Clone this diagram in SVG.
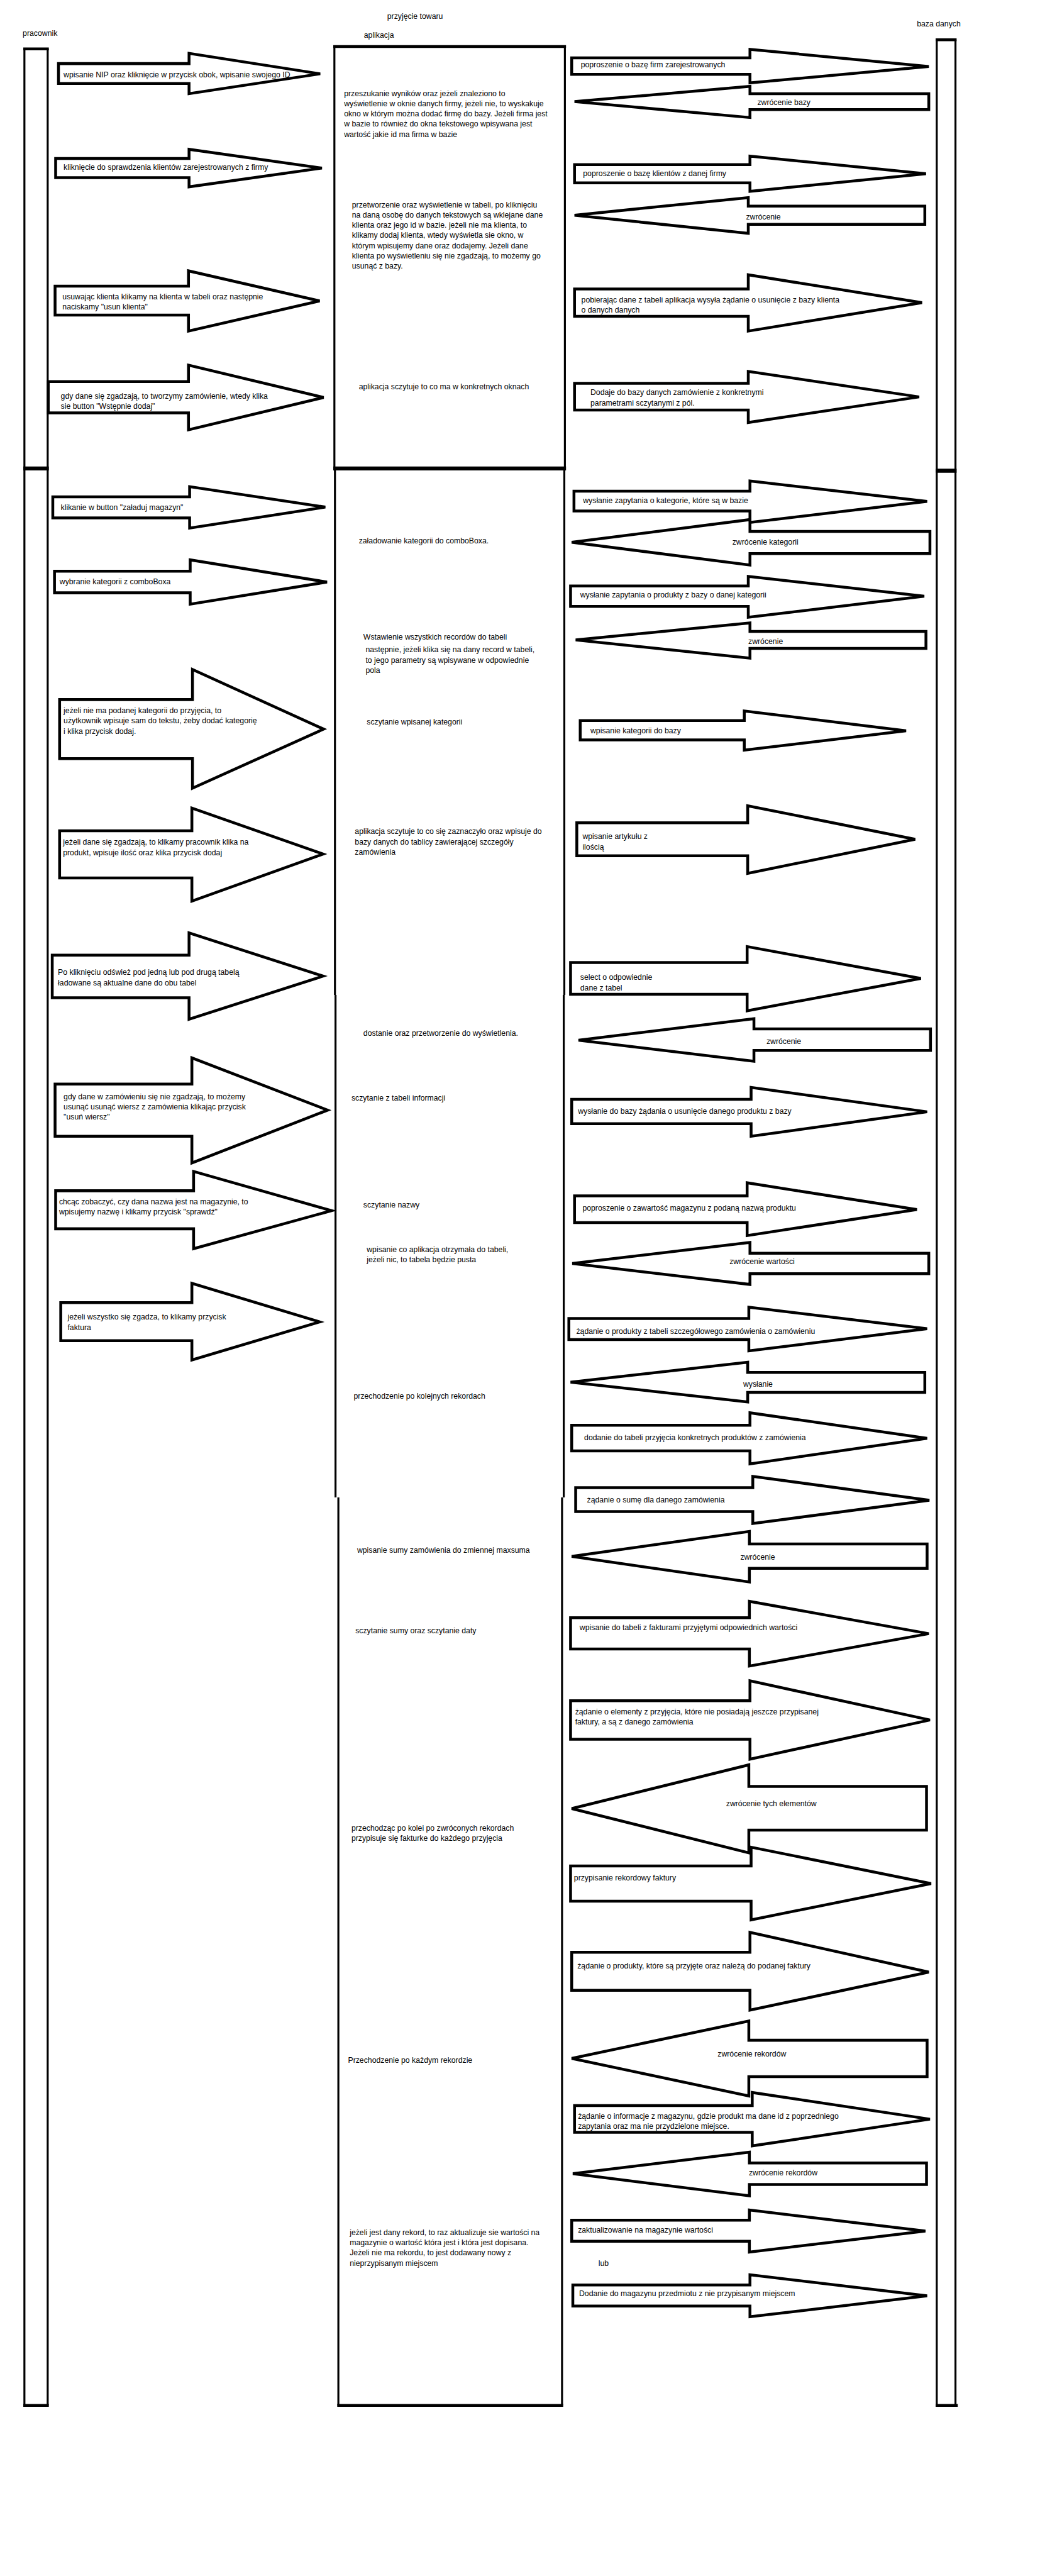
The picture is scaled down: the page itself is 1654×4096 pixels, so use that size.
<svg xmlns="http://www.w3.org/2000/svg" width="1654" height="4096" viewBox="0 0 1654 4096">
<style>
.t{font-family:"Liberation Sans",Arial,sans-serif;font-size:13.6px;fill:#000}
.arr{fill:#fff;stroke:#000;stroke-width:5;stroke-linejoin:miter}
.side{fill:none;stroke:#000;stroke-width:3.5}
.cap{fill:none;stroke:#000;stroke-width:5}
.join{fill:none;stroke:#000;stroke-width:7}
</style>
<rect x="0" y="0" width="1654" height="4096" fill="#fff"/>
<g transform="scale(0.9029)">
<text class="t" x="682" y="33">przyjęcie towaru</text>

<g id="pracownik">
<text class="t" x="40" y="63">pracownik</text>
<path class="side" d="M43,86 V4236 M84,86 V4236"/>
<path class="cap" d="M41,86 H86 M41,4236 H86"/>
<path class="join" d="M41,825 H86"/>
</g>

<g id="aplikacja">
<text class="t" x="641" y="67">aplikacja</text>
<path class="side" d="M589,82 V825 M995,82 V825 M590,825 V1752 M591,1752 V2637 M596,2637 V4236 M994,825 V1752 M993,1752 V2637 M990,2637 V4236"/>
<path class="cap" d="M587,82 H997 M594,4236 H992"/>
<path class="join" d="M587,825 H997"/>
<text class="t" x="606"><tspan x="606" y="169">przeszukanie wyników oraz jeżeli znaleziono to</tspan><tspan x="606" y="187">wyświetlenie w oknie danych firmy, jeżeli nie, to wyskakuje</tspan><tspan x="606" y="205">okno w którym można dodać firmę do bazy. Jeżeli firma jest</tspan><tspan x="606" y="223">w bazie to również do okna tekstowego wpisywana jest</tspan><tspan x="606" y="241">wartość jakie id ma firma w bazie</tspan></text>
<text class="t"><tspan x="620" y="365">przetworzenie oraz wyświetlenie w tabeli, po kliknięciu</tspan><tspan x="620" y="383">na daną osobę do danych tekstowych są wklejane dane</tspan><tspan x="620" y="401">klienta oraz jego id w bazie. jeżeli nie ma klienta, to</tspan><tspan x="620" y="419">klikamy dodaj klienta, wtedy wyświetla sie okno, w</tspan><tspan x="620" y="437">którym wpisujemy dane oraz dodajemy. Jeżeli dane</tspan><tspan x="620" y="455">klienta po wyświetleniu się nie zgadzają, to możemy go</tspan><tspan x="620" y="473">usunąć z bazy.</tspan></text>
<text class="t" x="632" y="686">aplikacja sczytuje to co ma w konkretnych oknach</text>
<text class="t" x="632" y="957">załadowanie kategorii do comboBoxa.</text>
<text class="t" x="640" y="1126">Wstawienie wszystkich recordów do tabeli</text>
<text class="t"><tspan x="644" y="1149">następnie, jeżeli klika się na dany record w tabeli,</tspan><tspan x="644" y="1167">to jego parametry są wpisywane w odpowiednie</tspan><tspan x="644" y="1185">pola</tspan></text>
<text class="t" x="646" y="1276">sczytanie wpisanej kategorii</text>
<text class="t"><tspan x="625" y="1469">aplikacja sczytuje to co się zaznaczyło oraz wpisuje do</tspan><tspan x="625" y="1487">bazy danych do tablicy zawierającej szczegóły</tspan><tspan x="625" y="1505">zamówienia</tspan></text>
<text class="t" x="640" y="1824">dostanie oraz przetworzenie do wyświetlenia.</text>
<text class="t" x="619" y="1938">sczytanie z tabeli informacji</text>
<text class="t" x="640" y="2127">sczytanie nazwy</text>
<text class="t"><tspan x="646" y="2205">wpisanie co aplikacja otrzymała do tabeli,</tspan><tspan x="646" y="2223">jeżeli nic, to tabela będzie pusta</tspan></text>
<text class="t" x="623" y="2463">przechodzenie po kolejnych rekordach</text>
<text class="t" x="629" y="2735">wpisanie sumy zamówienia do zmiennej maxsuma</text>
<text class="t" x="626" y="2876">sczytanie sumy oraz sczytanie daty</text>
<text class="t"><tspan x="619" y="3224">przechodząc po kolei po zwróconych rekordach</tspan><tspan x="619" y="3242">przypisuje się fakturke do każdego przyjęcia</tspan></text>
<text class="t" x="613" y="3633">Przechodzenie po każdym rekordzie</text>
<text class="t"><tspan x="616" y="3936">jeżeli jest dany rekord, to raz aktualizuje sie wartości na</tspan><tspan x="616" y="3954">magazynie o wartość która jest i która jest dopisana.</tspan><tspan x="616" y="3972">Jeżeli nie ma rekordu, to jest dodawany nowy z</tspan><tspan x="616" y="3990">nieprzypisanym miejscem</tspan></text>
</g>

<g id="baza_danych">
<text class="t" x="1615" y="47">baza danych</text>
<path class="side" d="M1650,70 V4236 M1683,70 V4236"/>
<path class="cap" d="M1648,70 H1685 M1648,4236 H1687"/>
<path class="join" d="M1648,829 H1685"/>
</g>

<g id="connectors">
<polygon class="arr" points="103,112 333,112 333,94 564,130 333,165 333,147 103,147"/>
<text class="t" x="112" y="136">wpisanie NIP oraz kliknięcie w przycisk obok, wpisanie swojego ID</text>
<polygon class="arr" points="98,279 333,279 333,263 567,296 333,329 333,313 98,313"/>
<text class="t" x="112" y="299">kliknięcie do sprawdzenia klientów zarejestrowanych z firmy</text>
<polygon class="arr" points="97,504 332,504 332,477 563,530 332,583 332,555 97,555"/>
<text class="t"><tspan x="110" y="527">usuwając klienta klikamy na klienta w tabeli oraz następnie</tspan><tspan x="110" y="545">naciskamy "usun klienta"</tspan></text>
<polygon class="arr" points="85,672 332,672 332,643 570,700 332,757 332,727 85,727"/>
<text class="t"><tspan x="107" y="702">gdy dane się zgadzają, to tworzymy zamówienie, wtedy klika</tspan><tspan x="107" y="720">sie button "Wstępnie dodaj"</tspan></text>
<polygon class="arr" points="93,875 334,875 334,857 573,893 334,930 334,912 93,912"/>
<text class="t" x="107" y="898">klikanie w button "załaduj magazyn"</text>
<polygon class="arr" points="96,1006 335,1006 335,986 576,1025 335,1064 335,1044 96,1044"/>
<text class="t" x="105" y="1029">wybranie kategorii z comboBoxa</text>
<polygon class="arr" points="105,1232 339,1232 339,1179 570,1284 339,1388 339,1336 105,1336"/>
<text class="t"><tspan x="112" y="1256">jeżeli nie ma podanej kategorii do przyjęcia, to</tspan><tspan x="112" y="1274">użytkownik wpisuje sam do tekstu, żeby dodać kategorię</tspan><tspan x="112" y="1292">i klika przycisk dodaj.</tspan></text>
<polygon class="arr" points="105,1463 338,1463 338,1423 569,1504 338,1587 338,1546 105,1546"/>
<text class="t"><tspan x="111" y="1487">jeżeli dane się zgadzają, to klikamy pracownik klika na</tspan><tspan x="111" y="1506">produkt, wpisuje ilość oraz klika przycisk dodaj</tspan></text>
<polygon class="arr" points="92,1682 333,1682 333,1643 569,1719 333,1795 333,1757 92,1757"/>
<text class="t"><tspan x="102" y="1717">Po kliknięciu odśwież pod jedną lub pod drugą tabelą</tspan><tspan x="102" y="1735">ładowane są aktualne dane do obu tabel</tspan></text>
<polygon class="arr" points="97,1909 338,1909 338,1863 577,1955 338,2048 338,2001 97,2001"/>
<text class="t"><tspan x="112" y="1936">gdy dane w zamówieniu się nie zgadzają, to możemy</tspan><tspan x="112" y="1954">usunąć usunąć wiersz z zamówienia klikając przycisk</tspan><tspan x="112" y="1971">"usuń wiersz"</tspan></text>
<polygon class="arr" points="98,2097 341,2097 341,2063 584,2132 341,2199 341,2164 98,2164"/>
<text class="t"><tspan x="104" y="2121">chcąc zobaczyć, czy dana nazwa jest na magazynie, to</tspan><tspan x="104" y="2139">wpisujemy nazwę i klikamy przycisk "sprawdź"</tspan></text>
<polygon class="arr" points="107,2294 338,2294 338,2260 563,2328 338,2395 338,2361 107,2361"/>
<text class="t"><tspan x="119" y="2324">jeżeli wszystko się zgadza, to klikamy przycisk</tspan><tspan x="119" y="2342">faktura</tspan></text>

<polygon class="arr" points="1007,102 1321,102 1321,87 1636,117 1321,146 1321,131 1007,131"/>
<text class="t" x="1023" y="119">poproszenie o bazę firm zarejestrowanych</text>
<polygon class="arr" points="1012,179 1321,152 1321,165 1636,165 1636,193 1321,193 1321,207"/>
<text class="t" x="1334" y="185">zwrócenie bazy</text>
<polygon class="arr" points="1012,290 1321,290 1321,275 1631,306 1321,337 1321,322 1012,322"/>
<text class="t" x="1027" y="310">poproszenie o bazę klientów z danej firmy</text>
<polygon class="arr" points="1012,379 1318,348 1318,363 1629,363 1629,395 1318,395 1318,411"/>
<text class="t" x="1314" y="386">zwrócenie</text>
<polygon class="arr" points="1012,509 1318,509 1318,484 1624,533 1318,583 1318,557 1012,557"/>
<text class="t"><tspan x="1024" y="533">pobierając dane z tabeli aplikacja wysyła żądanie o usunięcie z bazy klienta</tspan><tspan x="1024" y="551">o danych danych</tspan></text>
<polygon class="arr" points="1012,675 1318,675 1318,654 1619,699 1318,744 1318,722 1012,722"/>
<text class="t"><tspan x="1040" y="696">Dodaje do bazy danych zamówienie z konkretnymi</tspan><tspan x="1040" y="714">parametrami sczytanymi z pól.</tspan></text>
<polygon class="arr" points="1011,865 1321,865 1321,847 1633,883 1321,920 1321,900 1011,900"/>
<text class="t" x="1027" y="886">wysłanie zapytania o kategorie, które są w bazie</text>
<polygon class="arr" points="1007,955 1321,915 1321,936 1638,936 1638,975 1321,975 1321,995"/>
<text class="t" x="1290" y="959">zwrócenie kategorii</text>
<polygon class="arr" points="1005,1032 1318,1032 1318,1015 1628,1050 1318,1087 1318,1068 1005,1068"/>
<text class="t" x="1022" y="1052">wysłanie zapytania o produkty z bazy o danej kategorii</text>
<polygon class="arr" points="1014,1127 1321,1097 1321,1112 1631,1112 1631,1142 1321,1142 1321,1159"/>
<text class="t" x="1318" y="1134">zwrócenie</text>
<polygon class="arr" points="1022,1269 1311,1269 1311,1252 1596,1287 1311,1321 1311,1303 1022,1303"/>
<text class="t" x="1040" y="1291">wpisanie kategorii do bazy</text>
<polygon class="arr" points="1016,1449 1317,1449 1317,1419 1612,1478 1317,1538 1317,1507 1016,1507"/>
<text class="t"><tspan x="1026" y="1477">wpisanie artykułu z</tspan><tspan x="1026" y="1496">ilością</tspan></text>
<polygon class="arr" points="1005,1695 1316,1695 1316,1667 1622,1723 1316,1780 1316,1751 1005,1751"/>
<text class="t"><tspan x="1022" y="1726">select o odpowiednie</tspan><tspan x="1022" y="1744">dane z tabel</tspan></text>
<polygon class="arr" points="1019,1832 1328,1794 1328,1812 1639,1812 1639,1850 1328,1850 1328,1869"/>
<text class="t" x="1350" y="1838">zwrócenie</text>
<polygon class="arr" points="1007,1936 1323,1936 1323,1915 1633,1958 1323,2001 1323,1979 1007,1979"/>
<text class="t" x="1018" y="1962">wysłanie do bazy żądania o usunięcie danego produktu z bazy</text>
<polygon class="arr" points="1012,2106 1316,2106 1316,2083 1615,2130 1316,2176 1316,2153 1012,2153"/>
<text class="t" x="1026" y="2132">poproszenie o zawartość magazynu z podaną nazwą produktu</text>
<polygon class="arr" points="1008,2225 1321,2188 1321,2207 1636,2207 1636,2243 1321,2243 1321,2262"/>
<text class="t" x="1285" y="2226">zwrócenie wartości</text>
<polygon class="arr" points="1002,2322 1319,2322 1319,2302 1633,2340 1319,2379 1319,2359 1002,2359"/>
<text class="t" x="1015" y="2349">żądanie o produkty z tabeli szczegółowego zamówienia  o zamówieniu</text>
<polygon class="arr" points="1005,2434 1317,2399 1317,2417 1629,2417 1629,2452 1317,2452 1317,2469"/>
<text class="t" x="1309" y="2442">wysłanie</text>
<polygon class="arr" points="1007,2510 1321,2510 1321,2488 1633,2533 1321,2578 1321,2555 1007,2555"/>
<text class="t" x="1029" y="2536">dodanie do tabeli przyjęcia konkretnych produktów z zamówienia</text>
<polygon class="arr" points="1014,2620 1326,2620 1326,2600 1637,2642 1326,2683 1326,2662 1014,2662"/>
<text class="t" x="1034" y="2646">żądanie o sumę dla danego zamówienia</text>
<polygon class="arr" points="1007,2741 1320,2697 1320,2719 1633,2719 1633,2762 1320,2762 1320,2786"/>
<text class="t" x="1304" y="2747">zwrócenie</text>
<polygon class="arr" points="1005,2849 1320,2849 1320,2820 1636,2877 1320,2934 1320,2904 1005,2904"/>
<text class="t" x="1021" y="2871">wpisanie do tabeli z fakturami przyjętymi odpowiednich wartości</text>
<polygon class="arr" points="1005,2995 1321,2995 1321,2960 1638,3029 1321,3098 1321,3063 1005,3063"/>
<text class="t"><tspan x="1013" y="3019">żądanie o elementy z przyjęcia, które nie posiadają jeszcze przypisanej</tspan><tspan x="1013" y="3037">faktury, a są z danego zamówienia</tspan></text>
<polygon class="arr" points="1007,3185 1319,3108 1319,3146 1632,3146 1632,3223 1319,3223 1319,3263"/>
<text class="t" x="1279" y="3181">zwrócenie tych elementów</text>
<polygon class="arr" points="1005,3286 1323,3286 1323,3253 1640,3317 1323,3381 1323,3348 1005,3348"/>
<text class="t" x="1011" y="3311">przypisanie rekordowy faktury</text>
<polygon class="arr" points="1007,3438 1321,3438 1321,3403 1636,3473 1321,3540 1321,3505 1007,3505"/>
<text class="t" x="1017" y="3467">żądanie o produkty, które są przyjęte oraz należą do podanej faktury</text>
<polygon class="arr" points="1007,3625 1319,3559 1319,3593 1633,3593 1633,3657 1319,3657 1319,3691"/>
<text class="t" x="1264" y="3622">zwrócenie rekordów</text>
<polygon class="arr" points="1012,3708 1325,3708 1325,3685 1638,3732 1325,3779 1325,3755 1012,3755"/>
<text class="t"><tspan x="1018" y="3731">żądanie o informacje z magazynu, gdzie produkt ma dane id z poprzedniego</tspan><tspan x="1018" y="3749">zapytania oraz ma nie przydzielone miejsce.</tspan></text>
<polygon class="arr" points="1009,3828 1320,3790 1320,3809 1632,3809 1632,3847 1320,3847 1320,3867"/>
<text class="t" x="1319" y="3831">zwrócenie rekordów</text>
<polygon class="arr" points="1007,3910 1320,3910 1320,3892 1630,3929 1320,3966 1320,3947 1007,3947"/>
<text class="t" x="1018" y="3932">zaktualizowanie na magazynie wartości</text>
<text class="t" x="1054" y="3991">lub</text>
<polygon class="arr" points="1009,4024 1321,4024 1321,4006 1633,4043 1321,4080 1321,4061 1009,4061"/>
<text class="t" x="1020" y="4044">Dodanie do magazynu przedmiotu z nie przypisanym miejscem</text>
</g>
</g>
</svg>
